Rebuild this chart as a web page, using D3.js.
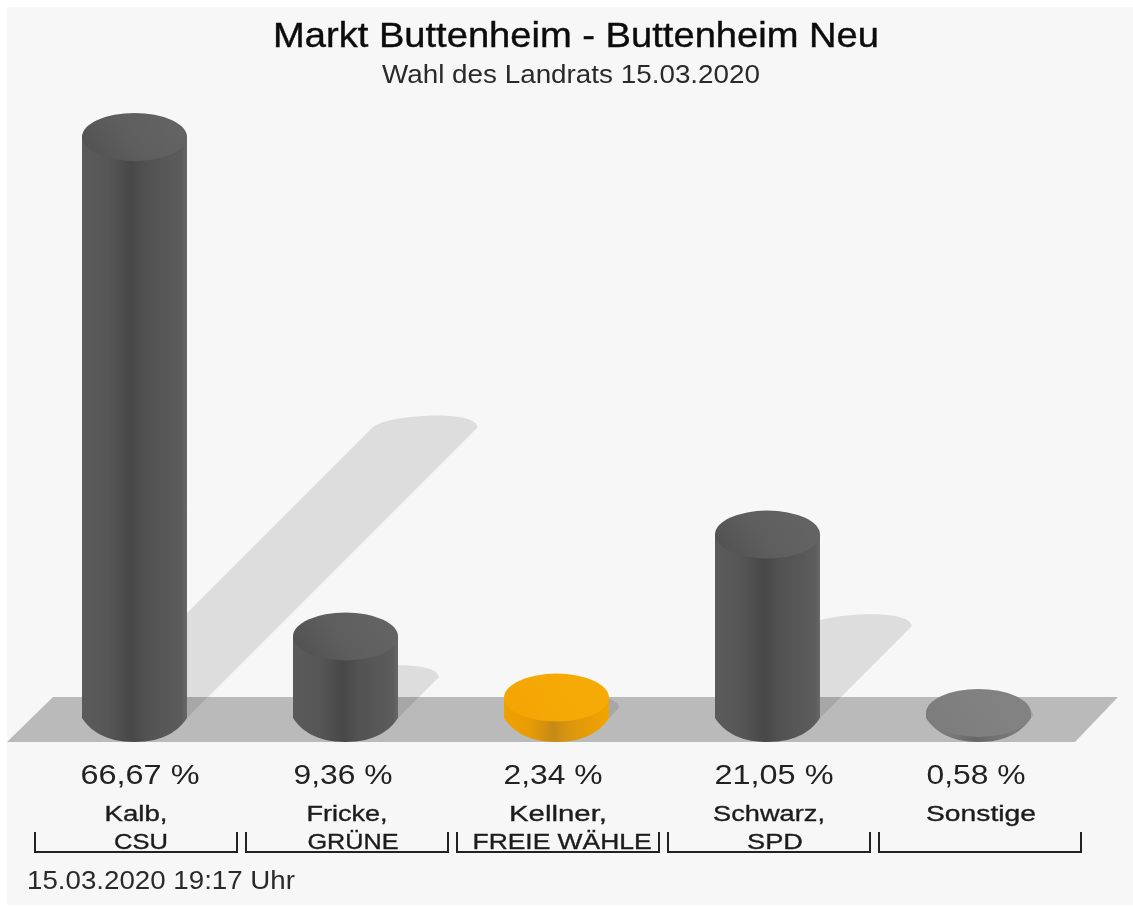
<!DOCTYPE html>
<html><head><meta charset="utf-8">
<script src="https://cdn.jsdelivr.net/npm/d3@7/dist/d3.min.js"></script>
<style>html,body{margin:0;padding:0;background:#fff}svg{display:block;filter:blur(.6px)}text{font-family:"Liberation Sans",Arial,sans-serif}</style>
</head><body><div id="chart"></div>
<script>
const titleText = "Markt Buttenheim - Buttenheim Neu";
const subtitleText = "Wahl des Landrats 15.03.2020";
const footerText = "15.03.2020 19:17 Uhr";
const categories = ["Kalb, CSU","Fricke, GRÜNE","Kellner, FREIE WÄHLE","Schwarz, SPD","Sonstige"];
const nameLine1 = ["Kalb,","Fricke,","Kellner,","Schwarz,","Sonstige"];
const nameLine2 = ["CSU","GRÜNE","FREIE WÄHLE","SPD",""];
const values = [66.67,9.36,2.34,21.05,0.58];
const valueLabels = ["66,67 %","9,36 %","2,34 %","21,05 %","0,58 %"];
const colorKeys = ["dark","dark","orange","dark","gray"];

const W=1133,H=906, baseY=718, rx=52.5, ry=24;
const svg=d3.select("#chart").append("svg").attr("width",W).attr("height",H);
const defs=svg.append("defs");
const pal={
 dark:{side:["#5a5a5a","#5a5a5a","#565656","#484848","#525252","#5c5c5c","#686868"],top:["#525252","#5e5e5e","#636363"]},
 orange:{side:["#f0a300","#ee9f00","#e89c05","#c58a15","#db9610","#f0a200","#f2a500"],top:["#f3a503","#f5a905","#f6aa05"]},
 gray:{side:["#7e7e7e","#7e7e7e","#787878","#666666","#707070","#7e7e7e","#808080"],top:["#7c7c7c","#808080","#828282"]}
};
const stops=[0,.04,.25,.47,.62,.95,1];
Object.entries(pal).forEach(([k,p])=>{
 const g=defs.append("linearGradient").attr("id","side-"+k);
 p.side.forEach((c,i)=>g.append("stop").attr("offset",stops[i]).attr("stop-color",c));
 const t=defs.append("linearGradient").attr("id","top-"+k).attr("x1",0).attr("y1",.7).attr("x2",.9).attr("y2",.4);
 p.top.forEach((c,i)=>t.append("stop").attr("offset",i/2).attr("stop-color",c));
});
svg.append("rect").attr("x",7).attr("y",7).attr("width",W-7).attr("height",898).attr("fill","#f7f7f7");

const band=d3.scaleBand().domain(categories).range([30.5,1085.5]).paddingInner(9/211).paddingOuter(.5*9/211);
const cx=c=>band(c)+band.bandwidth()/2-1.5;
const y=d3.scaleLinear().domain([0,66.67]).range([baseY,137]);
const data=categories.map((c,i)=>({c,v:values[i],k:colorKeys[i],i}));

// floor
svg.append("path").attr("d",d3.line()([[7,742],[53,697],[1118,697],[1075,742]])+"Z").attr("fill","#bababa");
// shadows: the cylinder sheared along the floor diagonal at half its height
const kappa=.5523, r2=ry/2;
svg.selectAll(".shadow").data(data).join("path").attr("class","shadow")
 .attr("fill","rgba(0,0,0,.1)")
 .attr("d",d=>{const s=(baseY-y(d.v))/2,x=cx(d.c),Y=baseY-s,L=x-rx+s,R=x+rx+s,Px=x+s+r2,Py=Y-r2;
  return `M${x-rx},${baseY}L${L},${Y}C${L+kappa*r2},${Y-kappa*r2} ${Px-kappa*rx},${Py} ${Px},${Py}`+
         `C${Px+kappa*rx},${Py} ${R+kappa*r2-r2*.6},${Y-kappa*r2} ${R},${Y}L${x+rx},${baseY}Z`;});
// cylinders: the lower rim meets the sides at a soft corner, as in the reference
svg.selectAll(".side").data(data).join("path").attr("class","side")
 .attr("fill",d=>`url(#side-${d.k})`)
 .attr("d",d=>{const x=cx(d.c),t=y(d.v),b=baseY+ry;
  return `M${x-rx},${t}L${x-rx},${baseY}C${x-rx+8},${baseY+12} ${x-30},${b} ${x},${b}`+
         `C${x+30},${b} ${x+rx-8},${baseY+12} ${x+rx},${baseY}L${x+rx},${t}Z`;});
svg.selectAll(".cap").data(data).join("ellipse").attr("class","cap")
 .attr("cx",d=>cx(d.c)).attr("cy",d=>y(d.v)).attr("rx",rx).attr("ry",ry)
 .attr("fill",d=>`url(#top-${d.k})`);

function label(txt,x,yy,size,len,col,weight){
 const t=svg.append("text").text(txt).attr("x",x).attr("y",yy).attr("font-size",size)
  .attr("text-anchor","middle").attr("fill",col||"#111");
 if(len) t.attr("textLength",len).attr("lengthAdjust","spacingAndGlyphs");
 if(weight) t.attr("stroke",col||"#111").attr("stroke-width",weight);
 return t;
}
label(titleText,576,47,35,606,"#0c0c0c",.4);
label(subtitleText,571,83,25.5,378,"#2a2a2a");
const valX=[140,343,553,774,976], valW=[119,99,99,119,99];
valueLabels.forEach((s,i)=>label(s,valX[i],784,27,valW[i],"#222"));
const n1X=[136,347,558,769,981], n1W=[63,81,98,112,110];
const n2X=[141,353,562,775,0], n2W=[54,91,179,56,0];
nameLine1.forEach((s,i)=>label(s,n1X[i],821,22.5,n1W[i],"#1c1c1c",.35));
nameLine2.forEach((s,i)=>{if(s)label(s,n2X[i],849,22.5,n2W[i],"#1c1c1c",.35);});
label(footerText,161,889,25.5,268,"#2a2a2a");

// brackets
svg.selectAll(".bracket").data(categories).join("path").attr("class","bracket")
 .attr("fill","none").attr("stroke","#222").attr("stroke-width",2)
 .attr("d",c=>{const a=band(c),b=a+band.bandwidth();return `M${a},832V852H${b}V832`;});
</script></body></html>
